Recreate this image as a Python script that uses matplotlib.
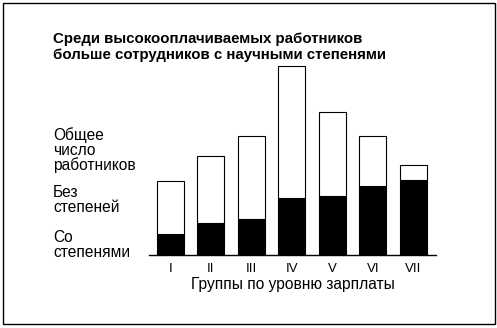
import matplotlib
matplotlib.use("Agg")
import matplotlib.pyplot as plt
from matplotlib.patches import Rectangle

groups = ["I", "II", "III", "IV", "V", "VI", "VII"]
total = [74, 99, 119, 189, 143, 119, 90]
with_degree = [21, 32, 36, 57, 59, 69, 75]
without_degree = [t - d for t, d in zip(total, with_degree)]

title_lines = ["Среди высокооплачиваемых работников",
               "больше сотрудников с научными степенями"]
xlabel = "Группы по уровню зарплаты"
legend_lines = [("Общее", 139.7), ("число", 155), ("работников", 170),
                ("Без", 196.7), ("степеней", 212),
                ("Со", 242), ("степенями", 256.7)]

W, H = 497, 328
plt.rcParams['font.family'] = ['Liberation Sans', 'DejaVu Sans']
fig = plt.figure(figsize=(W / 100, H / 100), dpi=100)

# outer frame
fig.patches.append(Rectangle((3 / W, 1 - 324 / H), (494.7 - 3) / W, (324 - 3) / H,
                             transform=fig.transFigure, fill=False,
                             edgecolor='black', linewidth=1.0))

base_px = 255.3
top_px = 60
ax_w_px = 435.7 - 149
ax_h_px = base_px - top_px
ax = fig.add_axes([149 / W, 1 - base_px / H, ax_w_px / W, ax_h_px / H])
x = list(range(len(groups)))
ax.bar(x, with_degree, width=0.667, color='black', edgecolor='black', linewidth=0.8)
ax.bar(x, without_degree, width=0.667, bottom=with_degree, color='white',
       edgecolor='black', linewidth=0.8)
ax.set_xlim(-0.53, 6.55)
ax.set_ylim(0, ax_h_px)
for s in ['top', 'right', 'left']:
    ax.spines[s].set_visible(False)
ax.spines['bottom'].set_linewidth(1.0)
ax.set_yticks([])
ax.set_xticks(x)
ax.set_xticklabels(groups, fontsize=9.5)
ax.tick_params(axis='x', length=0, pad=(272 - base_px) * 0.72)
for lab in ax.get_xticklabels():
    lab.set_va('baseline')
ax.set_xlabel(xlabel, fontsize=11.2, va='baseline')
ax.xaxis.set_label_coords((292.5 - 149) / ax_w_px, -(289.3 - base_px) / ax_h_px)

for line, yb in zip(title_lines, [42.5, 58.5]):
    fig.text(53 / W, 1 - yb / H, line, fontsize=10.8, fontweight='bold',
             va='baseline', ha='left')
for line, yb in legend_lines:
    fig.text(53 / W, 1 - yb / H, line, fontsize=11.2, va='baseline', ha='left')

fig.savefig("out.png", dpi=100)
